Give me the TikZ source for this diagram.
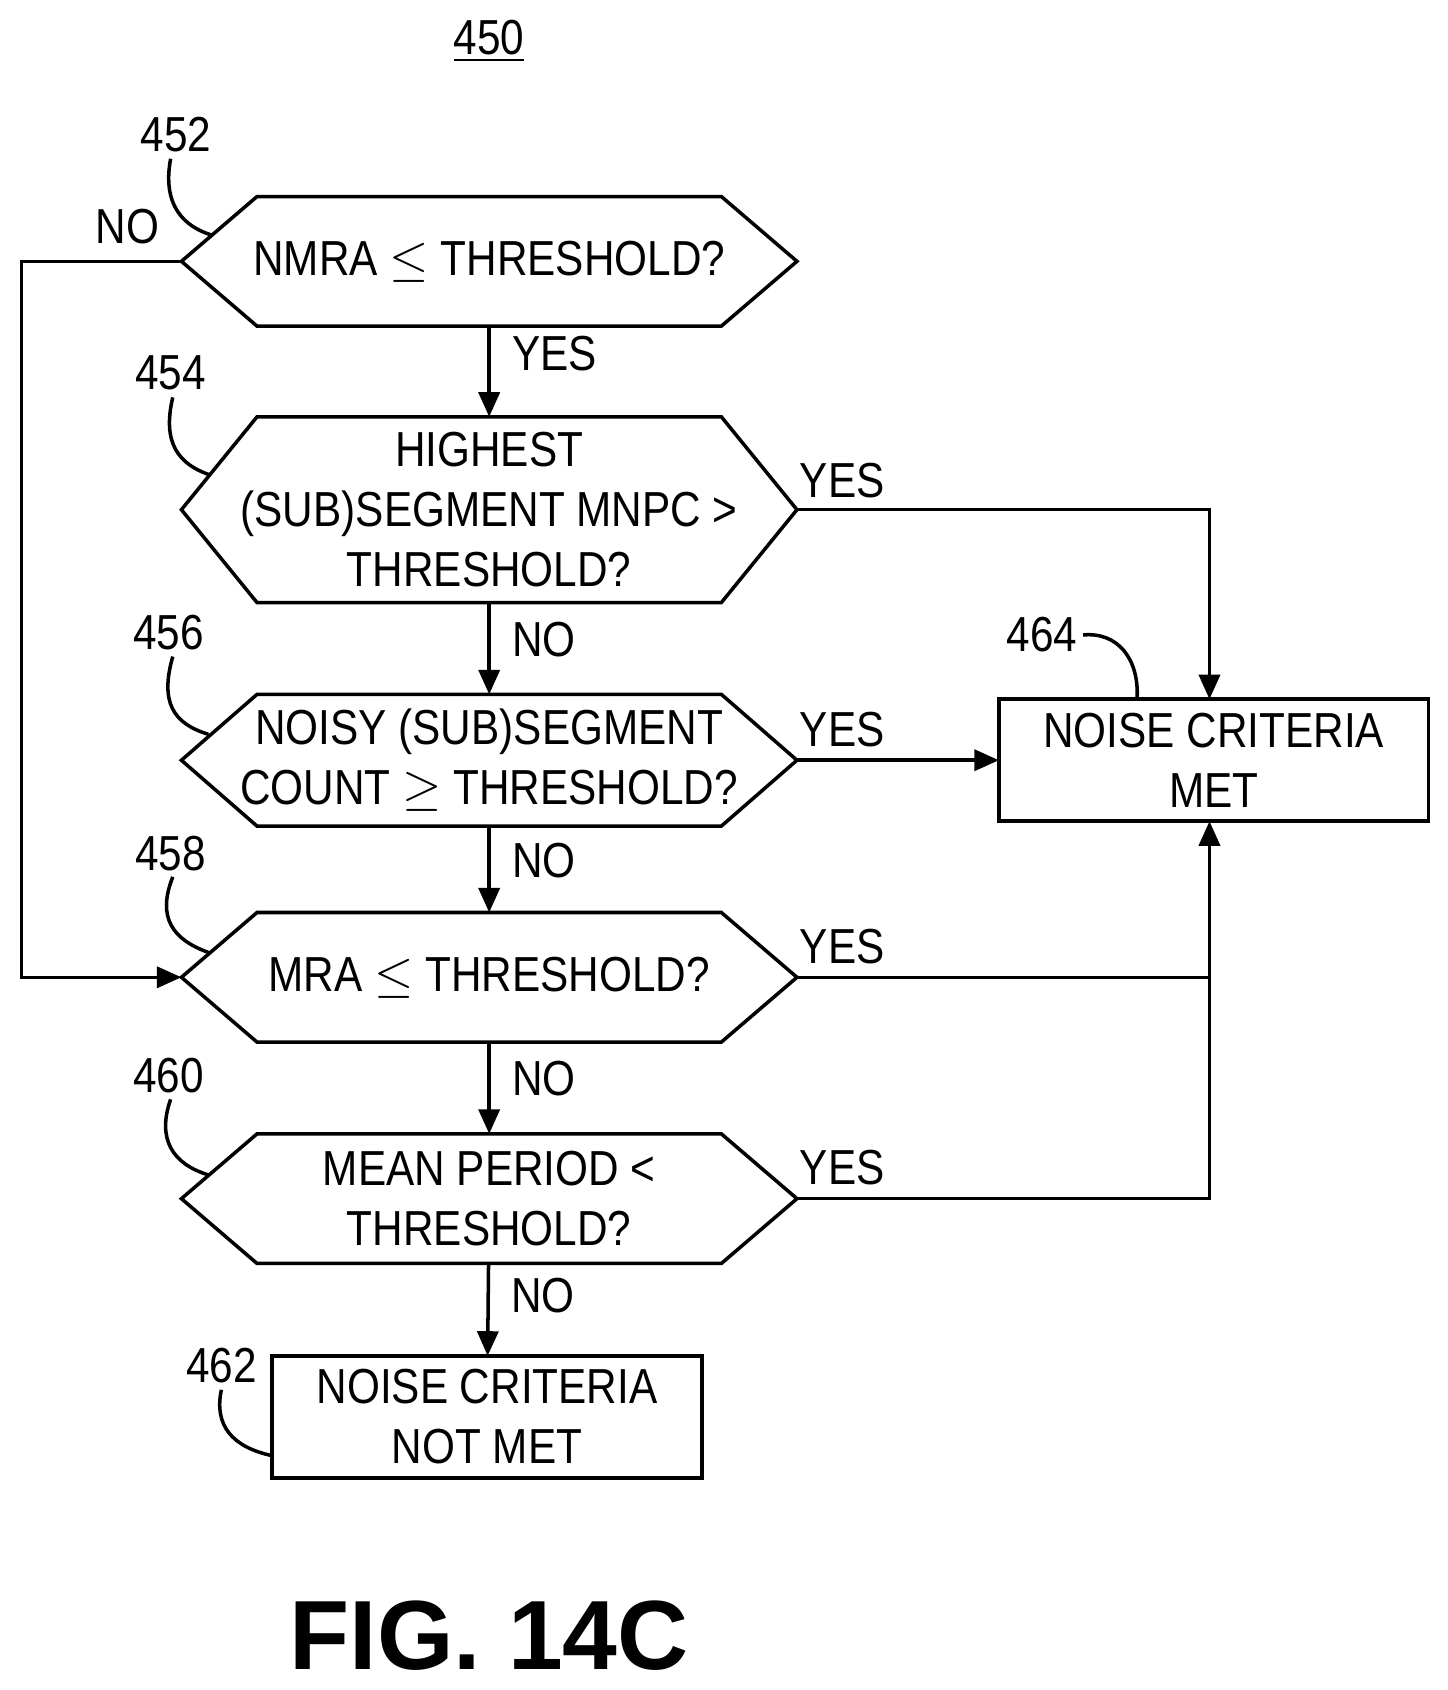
\documentclass[tikz,border=0pt]{standalone}
\usepackage{fontspec}
\setmainfont{Liberation Sans}[FakeStretch=0.86]
\newfontfamily\figfont{Liberation Sans}
\usetikzlibrary{arrows.meta}

\tikzset{
  line/.style={line width=1pt},
  arr/.style={line, -{Triangle[length=7pt,width=6pt]}},
  txt/.style={font=\fontsize{14}{17}\selectfont, align=center, inner sep=0pt},
  hexbox/.style={txt, rectangle, outer sep=0pt, minimum width=570*0.0108cm, minimum height=#1*0.0108cm},
  box/.style={txt, draw, line, rectangle, outer sep=0pt, minimum width=398*0.0108cm, minimum height=113*0.0108cm},
  lbl/.style={txt}
}
% hexagon outline around a named node
\newcommand{\hexline}[1]{%
  \draw[line] (#1.west) -- ([xshift=70*0.0108cm]#1.north west) -- ([xshift=-70*0.0108cm]#1.north east)
    -- (#1.east) -- ([xshift=-70*0.0108cm]#1.south east) -- ([xshift=70*0.0108cm]#1.south west) -- cycle;}

\begin{document}
\begin{tikzpicture}[x=0.0108cm, y=-0.0108cm]
    \useasboundingbox (0,0) rectangle (1340,1565);

    \node[lbl] (n450) at (453,38) {\underline{450}};

    \node[hexbox=120] (q452) at (453,242) {NMRA $\le$ THRESHOLD?};
    \node[hexbox=172] (q454) at (453,472) {HIGHEST\\(SUB)SEGMENT MNPC >\\THRESHOLD?};
    \node[hexbox=122] (q456) at (453,704) {NOISY (SUB)SEGMENT\\COUNT $\ge$ THRESHOLD?};
    \node[hexbox=120] (q458) at (453,905) {MRA $\le$ THRESHOLD?};
    \node[hexbox=120] (q460) at (453,1110) {MEAN PERIOD <\\THRESHOLD?};
    \hexline{q452}
    \hexline{q454}
    \hexline{q456}
    \hexline{q458}
    \hexline{q460}

    \node[box] (notmet) at (451,1312) {NOISE CRITERIA\\NOT MET};
    \node[box] (met) at (1124,704) {NOISE CRITERIA\\MET};

    % yes / no flow
    \draw[arr] (q452) -- node[lbl, right=6pt, pos=0.3] {YES} (q454);
    \draw[arr] (q454) -- node[lbl, right=6pt, pos=0.4] {NO} (q456);
    \draw[arr] (q456) -- node[lbl, right=6pt, pos=0.4] {NO} (q458);
    \draw[arr] (q458) -- node[lbl, right=6pt, pos=0.4] {NO} (q460);
    \draw[arr] (q460) -- node[lbl, right=6pt, pos=0.35] {NO} (notmet);

    \coordinate (c454) at (1120,472);
    \coordinate (c458) at (1120,905);
    \coordinate (c460) at (1120,1110);
    \draw[arr] (q454.east) -- (c454) -- (met.north -| c454);
    \draw[arr] (q456.east) -- (met.west);
    \draw[arr] (q458.east) -- (c458) -- (met.south -| c458);
    \draw[line] (q460.east) -- (c460) -- (c458);
    \node[lbl] at (780,445) {YES};
    \node[lbl] at (780,676) {YES};
    \node[lbl] at (780,877) {YES};
    \node[lbl] at (780,1081) {YES};

    \coordinate (l1) at (20,242);
    \coordinate (l2) at (20,905);
    \draw[arr] (q452.west) -- (l1) -- (l2) -- (q458.west);
    \node[lbl] at (118,210) {NO};

    % reference numerals
    \node[lbl] (r452) at (163,125) {452};
    \node[lbl] (r454) at (158,345) {454};
    \node[lbl] (r456) at (156,586) {456};
    \node[lbl] (r458) at (158,790) {458};
    \node[lbl] (r460) at (156,996) {460};
    \node[lbl] (r462) at (205,1265) {462};
    \node[lbl] (r464) at (965,588) {464};
    \draw[line] (158,147) .. controls (150,190) and (170,210) .. (197,218);
    \draw[line] (160,368) .. controls (150,410) and (165,430) .. (195,440);
    \draw[line] (160,608) .. controls (148,650) and (160,670) .. (193,680);
    \draw[line] (160,812) .. controls (145,850) and (160,870) .. (193,882);
    \draw[line] (158,1018) .. controls (145,1055) and (160,1078) .. (193,1088);
    \draw[line] (205,1287) .. controls (198,1320) and (215,1340) .. (252,1348);
    \draw[line] (1003,588) .. controls (1035,585) and (1055,610) .. (1053,647);

    \node[font=\figfont\bfseries\fontsize{28}{32}\selectfont] (fig) at (453,1515) {FIG. 14C};
\end{tikzpicture}
\end{document}
